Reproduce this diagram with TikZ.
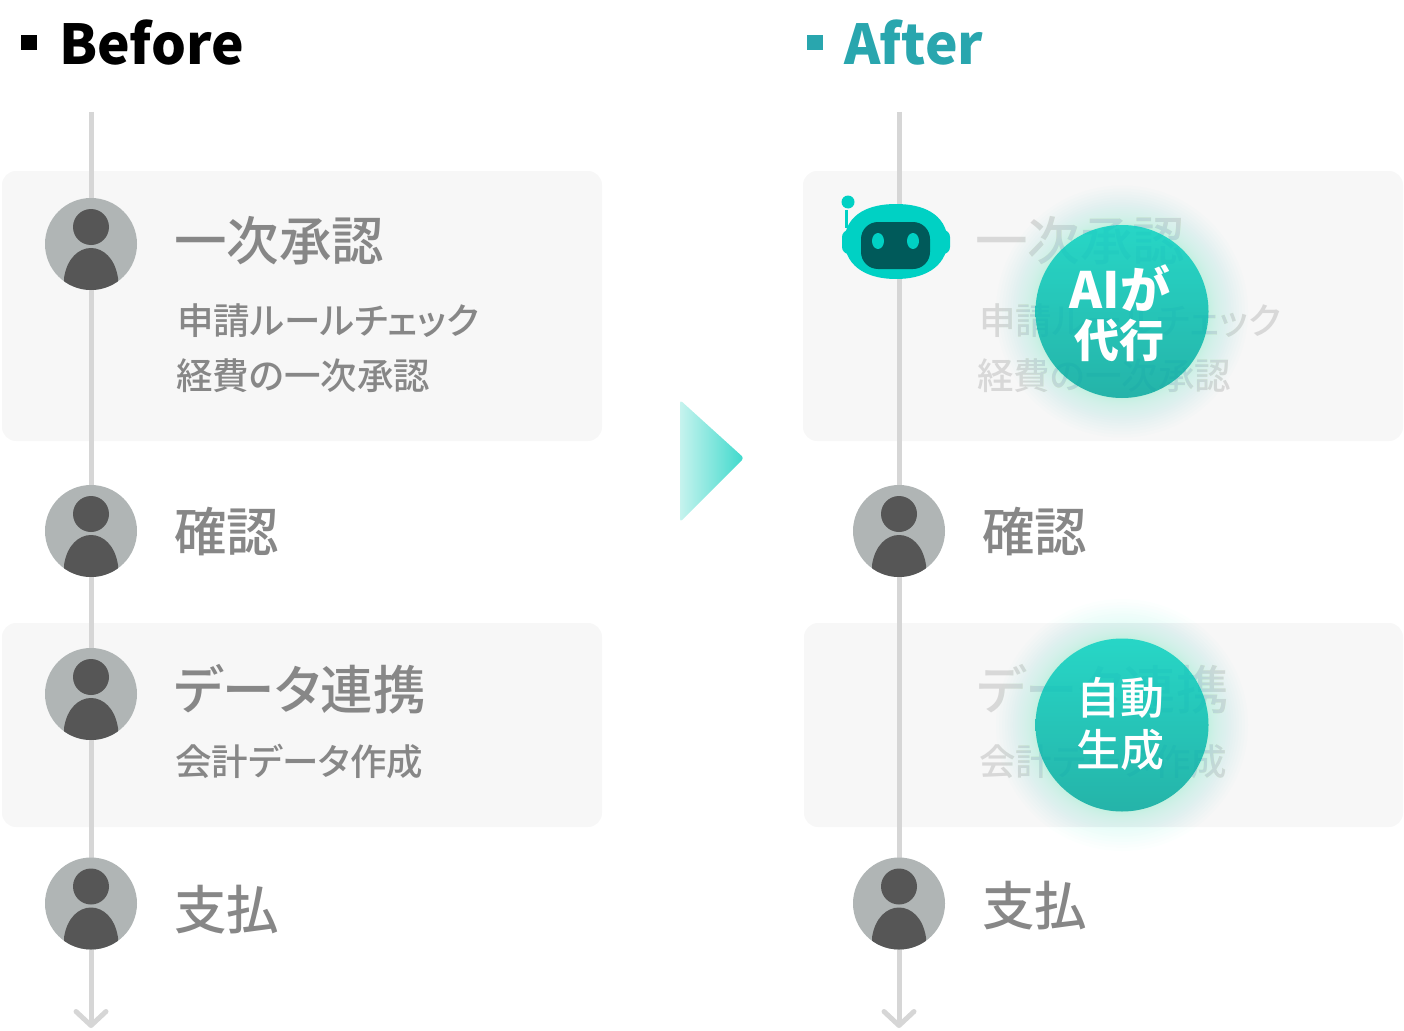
\documentclass[tikz,border=0pt]{standalone}
\usepackage{fontspec}
\setmainfont[RawFeature=+palt]{Noto Sans CJK JP}
\newfontfamily\semifont[RawFeature=+palt]{Noto Sans CJK JP Medium}
\usetikzlibrary{arrows.meta,shadings}
\definecolor{boxgray}{HTML}{F7F7F7}
\definecolor{linegray}{HTML}{D6D6D6}
\definecolor{txtgray}{HTML}{878787}
\definecolor{fadegray}{HTML}{D8D8D8}
\definecolor{avbg}{HTML}{B0B5B5}
\definecolor{avfg}{HTML}{565656}
\definecolor{teal}{HTML}{29A6AE}
\definecolor{robot}{HTML}{00D1C4}
\definecolor{robotdark}{HTML}{005A5A}
\newcommand{\fs}[1]{\fontsize{#1}{#1}\selectfont}
\tikzset{
  panel/.style={fill=boxgray,draw=none,rounded corners=14pt},
  flow/.style={draw=linegray,line width=5pt,-{Straight Barb[length=14pt,width=30pt,round,line width=5pt]}},
  head/.style={anchor=base west,inner sep=0pt,font=\semifont\fs{52.5}},
  sub/.style={anchor=base west,inner sep=0pt,font=\semifont\fs{36.5}},
  badge/.style={anchor=center,inner sep=0pt,text=white,font=\bfseries\fs{45}},
  badgelight/.style={anchor=center,inner sep=0pt,text=white,font=\semifont\fs{44}},
  ttl/.style={anchor=base west,inner sep=0pt,font=\bfseries\fs{55}}
}
\newcommand{\person}[3]{%
  \begin{scope}[shift={(#1,#2)}]
    \node[circle,fill=avbg,minimum size=92pt,inner sep=0pt] (#3) at (0,0) {};
    \begin{scope}
      \clip (0,0) circle (46);
      \fill[avfg] (0,17) circle (18);
      \fill[avfg] (-27,-50) -- (-27,-34) .. controls (-24,-14) and (-12,-4) .. (0,-4)
        .. controls (12,-4) and (24,-14) .. (27,-34) -- (27,-50) -- cycle;
    \end{scope}
  \end{scope}}
\newcommand{\glowdisc}[3]{%
  \foreach \i in {1,...,25}{\pgfmathsetmacro{\r}{86+40*(\i/25)*(\i/25)}
    \fill[color={rgb,255:red,120;green,240;blue,215},fill opacity=0.018] (#1,#2) circle (\r);}
  \shade[top color={rgb,255:red,2;green,208;blue,193},bottom color={rgb,255:red,0;green,165;blue,156},fill opacity=0.8] (#1,#2) circle (86.5);
  \node[coordinate] (#3) at (#1,#2) {};}
\begin{document}
\begin{tikzpicture}[x=1pt,y=1pt]
\useasboundingbox (0,0) rectangle (1404,-1030);
% Before
\fill (21,-35) rectangle (37,-50.5);
\node[ttl] (tb) at (59,-64.5) {Before};
\fill[panel] (2,-171) rectangle (602,-441);
\fill[panel] (2,-623) rectangle (602,-827);
\coordinate (bs) at (91,-112);
\coordinate (be) at (91,-1028);
\draw[flow] (bs) -- (be);
\person{91}{-244}{p1}
\person{91}{-531}{p2}
\person{91}{-694}{p3}
\person{91}{-903.5}{p4}
\node[head,text=txtgray] (b1) at (174,-260) {一次承認};
\node[sub,text=txtgray] (b1a) at (177,-334) {申請ルールチェック};
\node[sub,text=txtgray] (b1b) at (176,-389) {経費の一次承認};
\node[head,text=txtgray] (b2) at (174,-551) {確認};
\node[head,text=txtgray] (b3) at (174,-709) {データ連携};
\node[sub,text=txtgray] (b3a) at (175,-775) {会計データ作成};
\node[head,text=txtgray] (b4) at (174,-929) {支払};
% middle arrow
\shade[left color={rgb,255:red,198;green,243;blue,238},right color={rgb,255:red,62;green,217;blue,204},rounded corners=3pt]
  (680,-400) -- (744,-458) -- (680,-522) -- cycle;
% After
\fill[teal] (807,-35) rectangle (822.5,-50.5);
\node[ttl,text=teal] (ta) at (844,-64.5) {After};
\fill[panel] (803,-171) rectangle (1403,-441);
\fill[panel] (804,-623) rectangle (1403,-827);
\coordinate (as) at (899,-112);
\coordinate (ae) at (899,-1028);
\draw[flow] (as) -- (ae);
\person{899}{-531}{q2}
\person{899}{-903.5}{q4}
% robot
\fill[robot] (844,-241) .. controls (846,-213) and (870,-204) .. (896,-204)
  .. controls (922,-204) and (946,-213) .. (948,-241)
  .. controls (946,-269) and (922,-279) .. (896,-279)
  .. controls (870,-279) and (846,-269) .. (844,-241) -- cycle;
\fill[robot,rounded corners=7pt] (842,-230) rectangle (950,-254);
\fill[robot] (848,-202) circle (6.5);
\draw[robot,line width=3pt] (846,-210) -- (846,-228);
\fill[robotdark,rounded corners=17pt] (861,-222) rectangle (930,-269);
\fill[robot] (878,-241) ellipse (6 and 8);
\fill[robot] (913,-241) ellipse (6 and 8);
% faded text
\node[head,text=fadegray] (a1) at (975,-260) {一次承認};
\node[sub,text=fadegray] (a1a) at (979,-334) {申請ルールチェック};
\node[sub,text=fadegray] (a1b) at (977,-389) {経費の一次承認};
\node[head,text=txtgray] (a2) at (982,-551) {確認};
\node[head,text=fadegray] (a3) at (977,-709) {データ連携};
\node[sub,text=fadegray] (a3a) at (979,-775) {会計データ作成};
\node[head,text=txtgray] (a4) at (982,-925) {支払};
% discs
\glowdisc{1122}{-311.5}{d1}
\glowdisc{1122}{-725}{d2}
\node[badge,font=\bfseries\fs{50}] (d1t) at (1120,-288) {AIが};
\node[badge] (d1u) at (1119.5,-340) {代行};
\node[badgelight] (d2t) at (1120,-698) {自動};
\node[badgelight] (d2u) at (1120,-750) {生成};
\end{tikzpicture}
\end{document}
